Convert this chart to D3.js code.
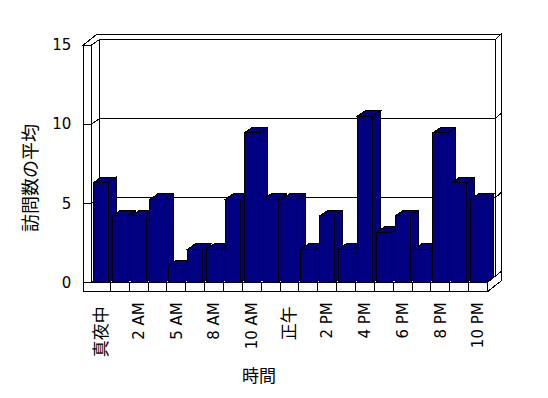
<!DOCTYPE html>
<html>
<head>
<meta charset="utf-8">
<script src="https://cdn.jsdelivr.net/npm/d3@7.9.0/dist/d3.min.js"></script>
<style>
  body { margin: 0; background: #fff; }
  text { font-family: "DejaVu Sans", "Noto Sans CJK JP", sans-serif; fill: #000; }
</style>
</head>
<body>
<div id="chart"></div>
<script>
// hours that have data (4 AM, 7 AM, 11 PM missing)
const hours = ["真夜中", "1 AM", "2 AM", "3 AM", "5 AM", "6 AM", "8 AM", "9 AM", "10 AM", "11 AM",
  "正午", "1 PM", "2 PM", "3 PM", "4 PM", "5 PM", "6 PM", "7 PM", "8 PM", "9 PM", "10 PM"];
const avgVisits = [6.3, 4.2, 4.2, 5.25, 1.05, 2.1, 2.1, 5.25, 9.45, 5.25, 5.25,
  2.1, 4.2, 2.1, 10.5, 3.15, 4.2, 2.1, 9.45, 6.3, 5.25];
const yTicks = [0, 5, 10, 15];
const gridValues = [5, 10];
const labelledHours = hours.filter((d, i) => i % 2 === 0);

let svg = d3.select("#chart")
    .append("svg")
    .attr("width", 548)
    .attr("height", 398)
    .style("display", "block");

// box geometry
const wallX = 83.3, plotL = 91.5, plotR = 487.5;
const topY = 45, baseY = 282.3, floorY = 291.7;
const d1 = [8, -5.5];     // depth of the plot / bars
const d2 = [13.5, -10.7]; // depth incl. back wall thickness

let x = d3.scaleBand().domain(hours).range([plotL, plotR]).paddingInner(0.2).paddingOuter(0.1);
let y = d3.scaleLinear().domain([0, 15]).range([baseY, topY]);

function poly(pts) {
    return "M" + pts.map(p => p[0] + "," + p[1]).join("L") + "Z";
}

let g = svg.append("g").attr("shape-rendering", "crispEdges");

function face(pts, fill) {
    g.append("path")
        .attr("d", poly(pts))
        .attr("fill", fill)
        .attr("stroke", "#000")
        .attr("stroke-width", 1);
}

// back wall front face
face([[plotL + d1[0], topY + d1[1]], [plotR + d1[0], topY + d1[1]],
      [plotR + d1[0], baseY + d1[1]], [plotL + d1[0], baseY + d1[1]]], "#fff");
// left wall inner face
face([[plotL, topY], [plotL + d1[0], topY + d1[1]], [plotL + d1[0], baseY + d1[1]], [plotL, baseY]], "#fff");
// back wall right side
face([[plotR + d1[0], topY + d1[1]], [plotR + d2[0], topY + d2[1]],
      [plotR + d2[0], baseY + d2[1]], [plotR + d1[0], baseY + d1[1]]], "#fff");
// top edges of the walls
face([[wallX, topY], [plotL, topY], [plotL + d1[0], topY + d1[1]], [plotR + d1[0], topY + d1[1]],
      [plotR + d2[0], topY + d2[1]], [wallX + d2[0], topY + d2[1]]], "#fff");
// left wall front face
face([[wallX, topY], [plotL, topY], [plotL, baseY], [wallX, baseY]], "#fff");

// gridlines on the walls
gridValues.forEach(v => {
    let yy = y(v);
    g.append("path")
        .attr("d", `M${plotL},${yy}L${plotL + d1[0]},${yy + d1[1]}L${plotR + d1[0]},${yy + d1[1]}L${plotR + d2[0]},${yy + d2[1]}`)
        .attr("fill", "none")
        .attr("stroke", "#000");
});

// y axis ticks on the wall front
g.append("g")
    .attr("transform", `translate(${plotL},0)`)
    .call(d3.axisLeft(y).tickValues(yTicks).tickSize(plotL - wallX).tickPadding(12))
    .call(a => a.select(".domain").remove())
    .attr("font-size", 15)
    .attr("font-family", null);

// floor
face([[plotL, baseY], [plotR, baseY], [plotR + d1[0], baseY + d1[1]], [plotL + d1[0], baseY + d1[1]]], "#fff");
face([[wallX, baseY], [plotR, baseY], [plotR, floorY], [wallX, floorY]], "#fff");
face([[plotR, baseY], [plotR + d2[0], baseY + d2[1]], [plotR + d2[0], floorY + d2[1]], [plotR, floorY]], "#fff");

g.selectAll(".divider")
    .data(hours.slice(1))
    .join("line")
    .attr("class", "divider")
    .attr("x1", d => x(d) - x.step() * x.paddingInner() / 2)
    .attr("x2", d => x(d) - x.step() * x.paddingInner() / 2)
    .attr("y1", baseY)
    .attr("y2", floorY)
    .attr("stroke", "#000");

// bars (left to right so the next front covers the previous side)
hours.forEach((h, i) => {
    let x0 = x(h), x1 = x(h) + x.bandwidth(), yt = y(avgVisits[i]);
    face([[x1, yt], [x1 + d1[0], yt + d1[1]], [x1 + d1[0], baseY + d1[1]], [x1, baseY]], "#000080");
    face([[x0, yt], [x0 + d1[0], yt + d1[1]], [x1 + d1[0], yt + d1[1]], [x1, yt]], "#000080");
    face([[x0, yt], [x1, yt], [x1, baseY], [x0, baseY]], "#000080");
});

// x labels
svg.append("g")
    .attr("transform", `translate(0,${baseY})`)
    .call(d3.axisBottom(x).tickValues(labelledHours).tickSize(0))
    .call(a => a.select(".domain").remove())
    .attr("font-size", 15)
    .attr("font-family", null)
    .selectAll("text")
    .attr("transform", "rotate(-90)")
    .attr("x", d => /[A-Z]/.test(d) ? -20 : -24)
    .attr("y", 0)
    .attr("dy", "0.35em")
    .attr("font-size", d => /[A-Z]/.test(d) ? 15 : 17)
    .style("text-anchor", "end");

// axis titles
svg.append("text")
    .attr("transform", "translate(31,178) rotate(-90)")
    .attr("dy", "0.35em")
    .attr("text-anchor", "middle")
    .attr("font-size", 18)
    .text("訪問数の平均");

svg.append("text")
    .attr("x", 259)
    .attr("y", 382)
    .attr("text-anchor", "middle")
    .attr("font-size", 17)
    .text("時間");
</script>
</body>
</html>
